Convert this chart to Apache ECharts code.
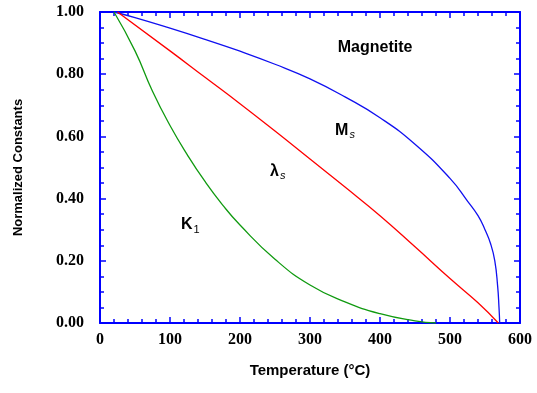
<!DOCTYPE html>
<html>
<head>
<meta charset="utf-8">
<script src="https://cdn.jsdelivr.net/npm/echarts@6/dist/echarts.min.js"></script>
<style>
    html, body { margin: 0; padding: 0; background: #fff; }
    #chart { width: 537px; height: 393px; }
</style>
</head>
<body>
<div id="chart"></div>
<script>
// values: [temperature °C, normalized value]
var msData = [[20, 1.0], [50, 0.982], [100, 0.948], [150, 0.912], [200, 0.874], [250, 0.832],
    [300, 0.785], [350, 0.727], [400, 0.66], [450, 0.575], [500, 0.465], [525, 0.392],
    [540, 0.345], [550, 0.30], [558, 0.255], [564, 0.20], [568, 0.12], [570, 0.05], [571, 0]];
var lambdaData = [[25, 1.0], [100, 0.875], [150, 0.79], [200, 0.705], [250, 0.617], [300, 0.527],
    [350, 0.437], [400, 0.345], [450, 0.245], [500, 0.143], [540, 0.065], [569, 0]];
var k1Data = [[20, 1.0], [50, 0.875], [75, 0.745], [100, 0.635], [125, 0.54], [150, 0.455],
    [175, 0.38], [200, 0.315], [250, 0.205], [300, 0.122], [350, 0.068], [400, 0.03],
    [450, 0.007], [480, 0]];
var xTicks = [0, 100, 200, 300, 400, 500, 600];
var yTicks = [0, 0.2, 0.4, 0.6, 0.8, 1.0];
// annotation text anchors in data coordinates
var notes = [
    {at: [393, 0.884], text: '{a|Magnetite}'},
    {at: [350, 0.62], text: '{a|M}{s|s}'},
    {at: [254, 0.486], text: '{a|λ}{s|s}'},
    {at: [129, 0.315], text: '{a|K}{n|1}'}
];

var axisColor = '#0000ff';
var chart = echarts.init(document.getElementById('chart'));

function baseX(pos, show) {
    return {
        type: 'value', position: pos, min: xTicks[0], max: xTicks[xTicks.length - 1], interval: 100,
        axisLine: {show: true, onZero: false, lineStyle: {color: axisColor, width: 2}},
        axisTick: {show: true, inside: true, length: 6, lineStyle: {color: axisColor, width: 1.5}},
        minorTick: {show: true, splitNumber: 5, length: 4, lineStyle: {color: axisColor, width: 1.5}},
        splitLine: {show: false},
        axisLabel: {show: show, margin: 9, color: '#000', fontFamily: 'Liberation Serif',
            fontWeight: 'bold', fontSize: 16}
    };
}
function baseY(pos, show) {
    return {
        type: 'value', position: pos, min: yTicks[0], max: yTicks[yTicks.length - 1], interval: 0.2,
        axisLine: {show: true, onZero: false, lineStyle: {color: axisColor, width: 2}},
        axisTick: {show: true, inside: true, length: 6, lineStyle: {color: axisColor, width: 1.5}},
        minorTick: {show: true, splitNumber: 4, length: 4, lineStyle: {color: axisColor, width: 1.5}},
        splitLine: {show: false},
        axisLabel: {show: show, margin: 16, color: '#000', fontFamily: 'Liberation Serif',
            fontWeight: 'bold', fontSize: 16,
            formatter: function (v) { return v.toFixed(2); }}
    };
}

var xTop = baseX('top', false);
var yRight = baseY('right', false);
var xBottom = baseX('bottom', true);
xBottom.name = 'Temperature (°C)';
xBottom.nameLocation = 'middle';
xBottom.nameGap = 40;
xBottom.nameTextStyle = {color: '#000', fontFamily: 'Liberation Sans', fontWeight: 'bold', fontSize: 15};
var yLeft = baseY('left', true);
yLeft.name = 'Normalized Constants';
yLeft.nameLocation = 'middle';
yLeft.nameGap = 75;
yLeft.nameTextStyle = {color: '#000', fontFamily: 'Liberation Sans', fontWeight: 'bold', fontSize: 13};

function line(name, data, color) {
    return {
        name: name, type: 'line', data: data, showSymbol: false, smooth: 0.5,
        xAxisIndex: 0, yAxisIndex: 0,
        lineStyle: {color: color, width: 1.3}, silent: true
    };
}

chart.setOption({
    animation: false,
    backgroundColor: '#fff',
    grid: {left: 100, right: 17, top: 12, bottom: 70},
    xAxis: [xBottom, xTop],
    yAxis: [yLeft, yRight],
    series: [
        line('Ms', msData, '#1010f0'),
        line('lambda', lambdaData, '#ff0000'),
        line('K1', k1Data, '#109a10')
    ]
});

var richStyle = {
    a: {fontFamily: 'Liberation Sans', fontWeight: 'bold', fontSize: 16, color: '#000'},
    s: {fontFamily: 'Liberation Sans', fontStyle: 'italic', fontSize: 11, color: '#000', padding: [9, 0, 0, 1]},
    n: {fontFamily: 'Liberation Sans', fontSize: 11, color: '#000', padding: [9, 0, 0, 1]}
};
chart.setOption({
    graphic: notes.map(function (n) {
        var p = chart.convertToPixel({xAxisIndex: 0, yAxisIndex: 0}, n.at);
        return {
            type: 'text', x: p[0], y: p[1],
            style: {text: n.text, rich: richStyle, align: 'center', verticalAlign: 'middle'}
        };
    })
});
</script>
</body>
</html>
